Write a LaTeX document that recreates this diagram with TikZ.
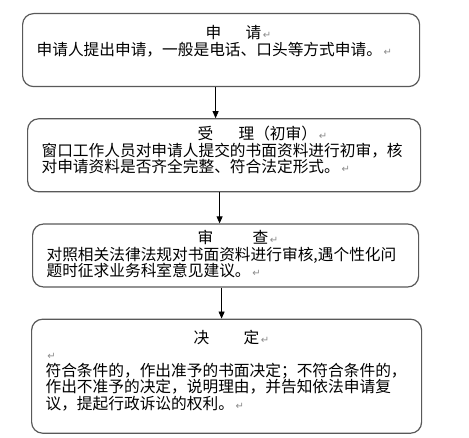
\documentclass[tikz,border=0pt]{standalone}
\usepackage{fontspec}
\usepackage{xcolor}
\usepackage{tikz}
\usetikzlibrary{arrows.meta, positioning}
\newfontfamily\cjkfont{Noto Sans CJK SC}
\newfontfamily\symfont{DejaVu Sans}
\newcommand{\retmark}{{\symfont\fontsize{10pt}{10pt}\selectfont\color{black!45}\,↵}}
\tikzset{
  stagebox/.style={
    rectangle, rounded corners=11pt, draw=black!65, line width=1.2pt,
    fill=white, align=left, inner xsep=14pt, inner ysep=0pt,
    font=\cjkfont\fontsize{15.7pt}{16.5pt}\selectfont
  },
  arrow/.style={-{Triangle[length=7pt,width=6pt]}, line width=0.8pt, draw=black}
}
\begin{document}
\begin{tikzpicture}[node distance=31pt]
\useasboundingbox (0,0) rectangle (469pt,-438pt);

\node[stagebox, anchor=north west, text width=369pt, text height=25pt, text depth=48pt] (apply) at (22pt,-13pt)
  {\hspace*{169pt}申\hspace{24.3pt}请\retmark\\
   申请人提出申请，一般是电话、口头等方式申请。\retmark};
\node[stagebox, below=of apply, xshift=3pt, text width=365pt, text height=21pt, text depth=52pt] (accept)
  {\hspace*{156pt}受\hspace{25.3pt}理（初审）\retmark\\
   窗口工作人员对申请人提交的书面资料进行初审，核\\
   对申请资料是否齐全完整、符合法定形式。\retmark};
\node[stagebox, below=of accept, xshift=1.5pt, text width=358pt, text height=20pt, text depth=43pt] (review)
  {\hspace*{151pt}审\hspace{39.3pt}查\retmark\\
   对照相关法律法规对书面资料进行审核,遇个性化问\\
   题时征求业务科室意见建议。\retmark};
\node[stagebox, below=of review, xshift=1pt, text width=362pt, text height=24pt, text depth=90pt] (decide)
  {\hspace*{148pt}决\hspace{34.3pt}定\retmark\\
   \retmark\\
   符合条件的，作出准予的书面决定；不符合条件的，\\
   作出不准予的决定，说明理由，并告知依法申请复\\
   议，提起行政诉讼的权利。\retmark};

\draw[arrow] ([xshift=-5.5pt]apply.south) -- ([xshift=-5.5pt]apply.south |- accept.north);
\draw[arrow] ([xshift=-4.5pt]accept.south) -- ([xshift=-4.5pt]accept.south |- review.north);
\draw[arrow] ([xshift=-4pt]review.south) -- ([xshift=-4pt]review.south |- decide.north);

\end{tikzpicture}
\end{document}
